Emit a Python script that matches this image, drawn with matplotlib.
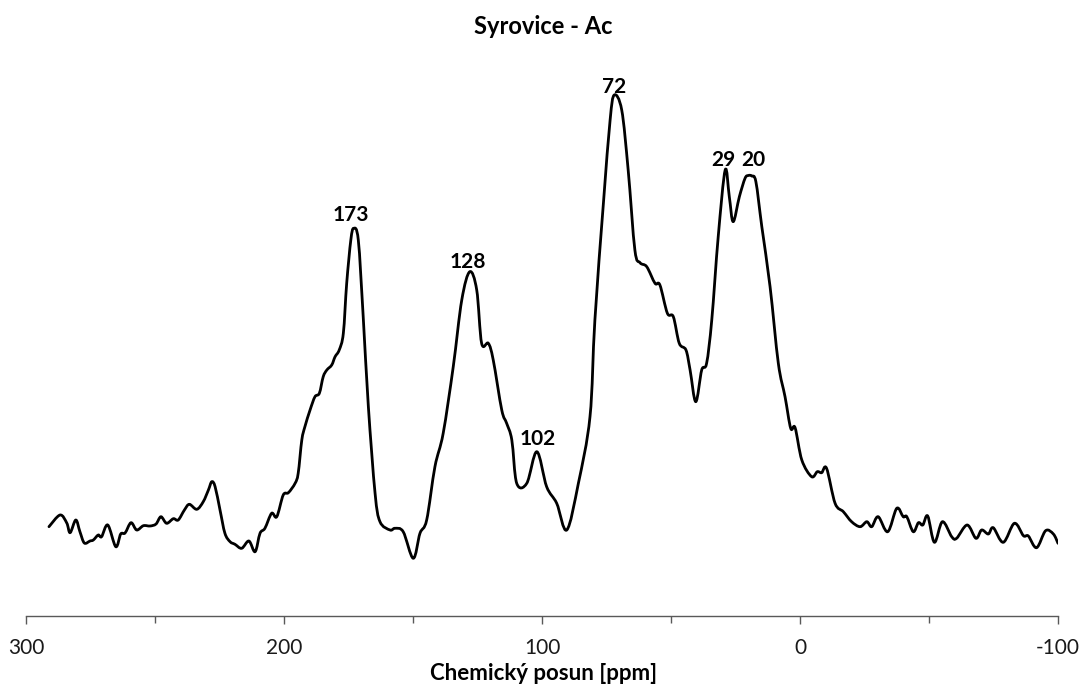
import numpy as np
import matplotlib
matplotlib.use("Agg")
import matplotlib.pyplot as plt
from matplotlib.path import Path
from matplotlib.patches import PathPatch

plt.rcParams['font.family'] = ['Lato', 'DejaVu Sans']

# 13C CP/MAS NMR spectrum, sample "Syrovice - Ac"
shift_ppm = [
    291.1, 286.8, 284.2, 282.9, 280.7, 279.1, 277.4, 275.2, 273.9, 272.0,
    270.7, 268.3, 265.2, 263.3, 261.6, 259.3, 257.1, 254.5, 251.9, 249.6,
    247.7, 245.5, 242.9, 241.0, 238.6, 236.7, 233.8, 231.3, 229.3, 228.0,
    226.7, 224.8, 222.9, 220.9, 219.0, 216.4, 213.6, 211.2, 209.3, 207.4,
    204.8, 202.8, 200.3, 198.3, 195.7, 194.5, 193.1, 191.9, 189.9, 188.0,
    186.3, 184.8, 183.4, 181.5, 180.2, 178.6, 177.0, 175.7, 174.1, 173.0,
    171.2, 169.3, 167.3, 164.7, 162.8, 158.9, 157.0, 153.8, 149.9, 147.3,
    144.7, 141.5, 138.3, 134.4, 131.1, 128.0, 125.3, 123.4, 120.8, 118.9,
    115.6, 113.7, 111.7, 109.8, 105.9, 102.0, 98.2, 94.3, 90.4, 85.9,
    81.4, 79.5, 76.2, 73.6, 72.0, 69.1, 66.6, 64.0, 62.0, 59.4,
    56.2, 54.3, 51.4, 49.1, 46.8, 44.2, 42.6, 40.4, 38.1, 36.2,
    34.2, 31.7, 29.0, 27.4, 25.9, 23.5, 21.3, 20.0, 18.7, 17.1,
    14.8, 11.6, 8.4, 5.8, 3.6, 1.9, -0.7, -4.5, -6.7, -8.4,
    -10.3, -13.6, -16.8, -20.0, -23.3, -25.9, -27.8, -30.3, -34.0, -37.5,
    -40.0, -41.4, -43.9, -45.9, -47.6, -49.5, -52.1, -55.2, -58.8, -60.7,
    -64.8, -68.2, -70.4, -73.0, -74.9, -78.8, -83.1, -86.6, -88.5, -91.7,
    -95.2, -98.2, -100.0,
]
intensity = [
    89.3, 101.0, 93.0, 83.3, 96.0, 84.3, 73.0, 75.0, 76.0, 81.0,
    79.3, 91.0, 69.3, 82.0, 83.0, 93.3, 86.0, 90.3, 90.0, 92.0,
    99.3, 92.7, 97.3, 96.0, 106.0, 111.7, 106.7, 114.3, 126.0, 134.3,
    129.3, 106.0, 82.7, 74.3, 71.7, 67.7, 75.0, 64.3, 82.7, 87.7,
    102.7, 99.3, 121.0, 123.3, 132.7, 142.7, 176.0, 189.3, 206.0, 219.3,
    222.7, 239.3, 246.0, 251.0, 259.3, 266.0, 282.7, 332.7, 376.0, 387.7,
    376.0, 299.3, 209.3, 122.7, 94.3, 86.0, 87.7, 84.3, 57.7, 82.7,
    96.0, 149.3, 182.7, 249.3, 316.0, 344.3, 326.0, 272.7, 272.7, 256.0,
    206.0, 192.7, 176.0, 132.7, 132.7, 164.3, 129.3, 112.7, 86.0, 132.7,
    199.3, 296.0, 412.7, 496.0, 521.0, 506.0, 446.0, 366.0, 353.3, 349.3,
    332.7, 331.0, 302.7, 299.3, 272.7, 266.0, 246.0, 214.3, 246.0, 252.7,
    296.0, 379.3, 446.0, 419.3, 394.3, 419.3, 437.7, 440.5, 440.0, 434.3,
    389.3, 329.3, 252.7, 219.3, 187.7, 188.3, 156.0, 139.3, 144.3, 143.3,
    147.7, 112.7, 104.3, 94.3, 89.3, 94.3, 89.3, 99.3, 84.3, 107.7,
    99.3, 99.3, 84.3, 93.3, 91.0, 100.0, 73.7, 94.3, 79.3, 77.7,
    91.0, 77.7, 86.0, 82.0, 88.3, 73.7, 92.7, 80.3, 80.0, 68.3,
    85.3, 82.0, 72.7,
]

# labelled peak positions and label offsets (points)
peak_ppm = [173, 128, 102, 72, 29, 20]
peak_labels = ["173", "128", "102", "72", "29", "20"]
label_dx = [-2.0, -1.5, 0.5, 0.0, -1.2, 3.3]
label_dy = [5.5, 2.5, 5.0, 1.7, 3.0, 6.8]

x_ticks = [300, 200, 100, 0, -100]
x_minor = [250, 150, 50, -50]


def smooth_path(x, y):
    """Smoothed polyline (Catmull-Rom segments as cubic Bezier curves)."""
    p = np.column_stack([x, y]).astype(float)
    ext = np.vstack([p[0], p, p[-1]])
    verts = [p[0]]
    codes = [Path.MOVETO]
    for i in range(1, len(ext) - 2):
        p0, p1, p2, p3 = ext[i - 1], ext[i], ext[i + 1], ext[i + 2]
        c1 = p1 + (p2 - p0) / 6.0
        c2 = p2 - (p3 - p1) / 6.0
        verts += [c1, c2, p2]
        codes += [Path.CURVE4] * 3
    return Path(verts, codes)


fig = plt.figure(figsize=(10.84, 6.91), dpi=100)
ax = fig.add_axes([26 / 1084, 75 / 691, 1032 / 1084, 560 / 691])

ax.add_patch(PathPatch(smooth_path(shift_ppm, intensity), facecolor='none',
                       edgecolor='black', lw=2.0, joinstyle='round',
                       capstyle='round'))

ax.set_xlim(300, -100)
ax.set_ylim(0, 560)

for s in ('left', 'right', 'top'):
    ax.spines[s].set_visible(False)
ax.spines['bottom'].set_color('#595959')
ax.spines['bottom'].set_linewidth(1.0)
ax.set_yticks([])
ax.set_xticks(x_ticks)
ax.set_xticklabels([str(t) for t in x_ticks])
ax.set_xticks(x_minor, minor=True)
ax.tick_params(axis='x', which='major', direction='out', length=6, width=1.0,
               color='#595959', labelsize=15, pad=10, labelcolor='#1a1a1a')
ax.tick_params(axis='x', which='minor', direction='out', length=5, width=1.0,
               color='#595959')

xs = np.array(shift_ppm)[::-1]
ys = np.array(intensity)[::-1]
for p, lab, dx, dy in zip(peak_ppm, peak_labels, label_dx, label_dy):
    ax.annotate(lab, xy=(p, np.interp(p, xs, ys)), xytext=(dx, dy),
                textcoords='offset points', ha='center', va='baseline',
                fontsize=15, fontweight='bold', color='black')

fig.text(543.5 / 1084, 1 - 34 / 691, "Syrovice - Ac", ha='center',
         va='baseline', fontsize=17, fontweight='bold')
fig.text(543.5 / 1084, 1 - 680 / 691, "Chemický posun [ppm]", ha='center',
         va='baseline', fontsize=16, fontweight='bold')

fig.savefig("out.png", dpi=100, facecolor='white')
